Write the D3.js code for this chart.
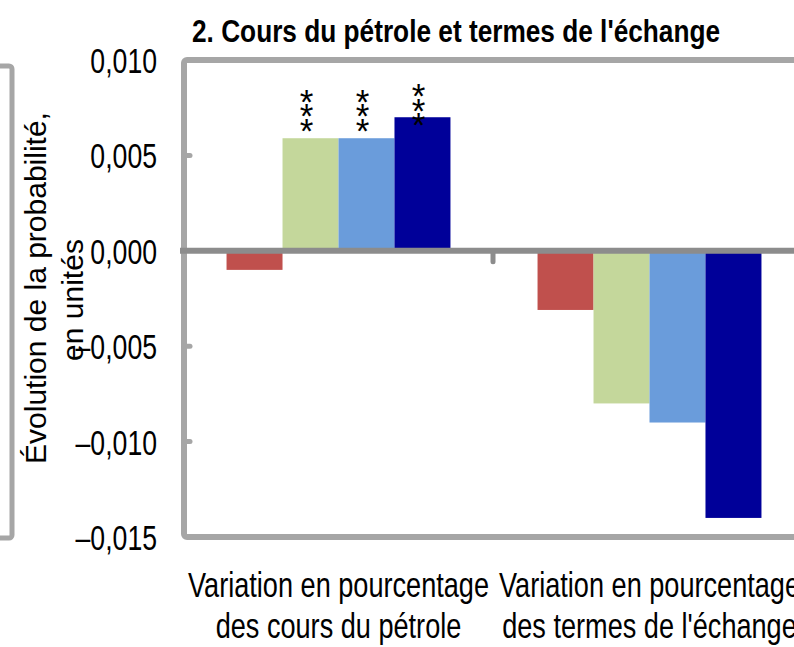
<!DOCTYPE html>
<html>
<head>
<meta charset="utf-8">
<script src="https://cdn.jsdelivr.net/npm/d3@7"></script>
<style>
  body { margin:0; background:#fff; }
  svg  { display:block; }
  text { font-family:"Liberation Sans",Arial,sans-serif; fill:#000; }
</style>
</head>
<body>
<svg id="chart" width="794" height="647"></svg>
<script>
/* ---------- data -------------------------------------------- */
const categories = [
  ['Variation en pourcentage', 'des cours du pétrole'],
  ['Variation en pourcentage', 'des termes de l\'échange']
];
const seriesNames  = ['s1', 's2', 's3', 's4'];
const seriesColors = ['#c0504d', '#c4d79b', '#6a9cdb', '#000099'];
const values = [                     // one row per series, one value per category
  [-0.0010, -0.0031],
  [ 0.0059, -0.0080],
  [ 0.0059, -0.0090],
  [ 0.0070, -0.0140]
];
const sigMarks = [                   // significance stars [series, category, text, lowest star level]
  [1, 0, '***', 0.0067],
  [2, 0, '***', 0.0067],
  [3, 0, '***', 0.0070]
];
const yTicks = [0.010, 0.005, 0.000, -0.005, -0.010, -0.015];
const title  = '2. Cours du pétrole et termes de l\'échange';
const yTitle = ['Évolution de la probabilité,', 'en unités'];

/* ---------- layout ------------------------------------------ */
const svg = d3.select('#chart');
const L = 184, T = 60, B = 537;

const y  = d3.scaleLinear().domain([-0.015, 0.010]).range([B, T]);
const x0 = d3.scaleBand().domain(d3.range(categories.length)).range([183, 805])
             .paddingInner(0.28).paddingOuter(0.14);
const x1 = d3.scaleBand().domain(seriesNames).range([0, x0.bandwidth()]);

const fmt = v => (v < 0 ? '\u2013' : '') + d3.format('.3f')(Math.abs(v)).replace('.', ',');

// narrow text helper: Liberation Sans squeezed horizontally round its anchor
const narrowText = (x, yy, str, size, sx, anchor, weight) =>
  svg.append('g').attr('transform', `translate(${x},${yy}) scale(${sx},1)`)
    .append('text')
      .attr('text-anchor', anchor)
      .style('font-size', size + 'px')
      .style('font-weight', weight || 'normal')
      .text(str);

/* partial frame of the neighbouring panel */
svg.append('rect')
  .attr('x', -40).attr('y', 66).attr('width', 52).attr('height', 472)
  .attr('rx', 3).attr('fill', 'none')
  .attr('stroke', '#a6a6a6').attr('stroke-width', 5);

/* plot frame */
svg.append('rect')
  .attr('x', L).attr('y', T).attr('width', 660).attr('height', B - T)
  .attr('rx', 3).attr('fill', 'none')
  .attr('stroke', '#a6a6a6').attr('stroke-width', 6);

/* title */
narrowText(192, 42, title, 32, 0.82, 'start', 'bold');

/* y tick labels + stubs */
yTicks.forEach(d => narrowText(157, y(d) + 13, fmt(d), 36, 0.74, 'end'));

svg.selectAll('.ystub').data(yTicks.filter(d => d !== 0 && d > -0.015 && d < 0.010)).enter()
  .append('line')
  .attr('x1', L).attr('x2', L + 6)
  .attr('y1', d => y(d)).attr('y2', d => y(d))
  .attr('stroke', '#a6a6a6').attr('stroke-width', 5).attr('stroke-linecap', 'round');

/* bars */
const grp = svg.selectAll('.cat').data(categories).enter().append('g')
  .attr('transform', (d, i) => `translate(${x0(i)},0)`);

grp.selectAll('rect').data((d, i) => values.map((v, s) => ({s, v: v[i]}))).enter()
  .append('rect')
  .attr('x', d => x1(seriesNames[d.s]))
  .attr('width', x1.bandwidth())
  .attr('y', d => y(Math.max(0, d.v)))
  .attr('height', d => Math.abs(y(d.v) - y(0)))
  .attr('fill', d => seriesColors[d.s]);

/* zero line + category separator tick */
svg.append('line')
  .attr('x1', 180).attr('x2', 800).attr('y1', y(0)).attr('y2', y(0))
  .attr('stroke', '#8c8c8c').attr('stroke-width', 6);

const sepX = (x0(0) + x0.bandwidth() + x0(1)) / 2 - 1;
svg.append('line')
  .attr('x1', sepX).attr('x2', sepX)
  .attr('y1', y(0)).attr('y2', y(0) + 11)
  .attr('stroke', '#8c8c8c').attr('stroke-width', 5).attr('stroke-linecap', 'round');

/* significance stars, stacked vertically */
sigMarks.forEach(([s, c, txt, lvl]) => {
  const cx = x0(c) + x1(seriesNames[s]) + x1.bandwidth() / 2 - 4;
  const t = svg.append('text')
    .attr('text-anchor', 'middle')
    .style('font-size', '35px');
  txt.split('').forEach((ch, k) => {
    t.append('tspan').attr('x', cx)
      .attr('y', y(lvl) + 20 - (txt.length - 1 - k) * 14.5)
      .text(ch);
  });
});

/* category labels */
categories.forEach((lines, i) => {
  const cx = x0(i) + x0.bandwidth() / 2;
  lines.forEach((ln, k) => narrowText(cx, 597 + k * 41, ln, 35, 0.775, 'middle'));
});

/* y-axis title */
const yPos = [[46, 288], [83, 300]];
yTitle.forEach((ln, k) => {
  svg.append('text')
    .attr('transform', `translate(${yPos[k][0]},${yPos[k][1]}) rotate(-90)`)
    .attr('text-anchor', 'middle')
    .style('font-size', '30px')
    .text(ln);
});
</script>
</body>
</html>
